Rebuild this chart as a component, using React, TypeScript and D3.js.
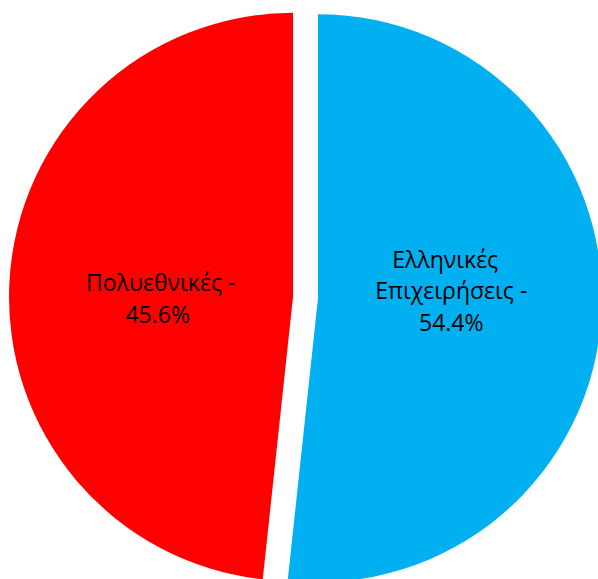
import React from "react";
import * as d3 from "d3";

// Data
const categories = ["Ελληνικές Επιχειρήσεις", "Πολυεθνικές"];
const sliceShares = [51.7, 48.3]; // share of the circle as drawn
const labelPercents = ["54.4%", "45.6%"];
const labelLines = [
  ["Ελληνικές", "Επιχειρήσεις -"],
  ["Πολυεθνικές -"],
];
const colors = ["#00B0F0", "#FF0000"];

const W = 598;
const H = 579;

export default function App() {
  const cx = 305.5;
  const cy = 297.5;
  const r = 284;
  const explode = 12.5;

  const pie = d3
    .pie<number>()
    .sort(null)
    .value((d) => d)
    .startAngle(0)
    .endAngle(2 * Math.PI);
  const arcs = pie(sliceShares);
  const arcGen = d3.arc<d3.PieArcDatum<number>>().innerRadius(0).outerRadius(r);

  const lineH = 31.5;
  const labelNudge = [-6.5, 1.5];
  const lineDx = [[-6, 0, 0], [1, -2]];

  return (
    <svg
      width={W}
      height={H}
      style={{ position: "absolute", left: 0, top: 0 }}
      fontFamily="'Open Sans', 'Noto Sans', sans-serif"
    >
      <rect width={W} height={H} fill="#fff" />
      {arcs.map((a, i) => {
        const mid = (a.startAngle + a.endAngle) / 2;
        const ox = cx + explode * Math.sin(mid);
        const oy = cy - explode * Math.cos(mid);
        const lr = 0.47 * r;
        const lx = ox + lr * Math.sin(mid);
        const ly = cy + labelNudge[i];
        const lines = [...labelLines[i], labelPercents[i]];
        const n = lines.length;
        return (
          <g key={categories[i]}>
            <path
              d={arcGen(a) as string}
              transform={`translate(${ox},${oy})`}
              fill={colors[i]}
            />
            <text fontSize={23} fill="#000" textAnchor="middle">
              {lines.map((t, j) => (
                <tspan
                  key={j}
                  x={lx + (lineDx[i][j] || 0)}
                  y={ly + (j - (n - 1) / 2) * lineH + 8}
                >
                  {t}
                </tspan>
              ))}
            </text>
          </g>
        );
      })}
    </svg>
  );
}
